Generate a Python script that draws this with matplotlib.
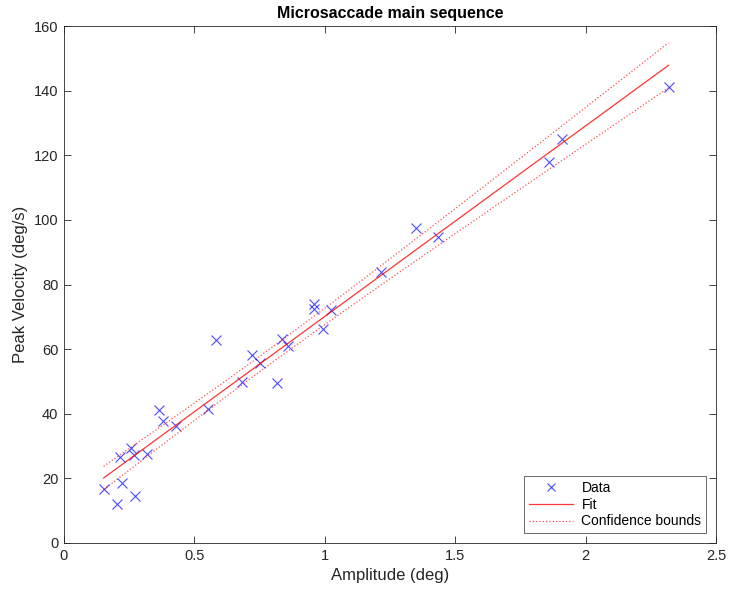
import numpy as np
import matplotlib
matplotlib.use("Agg")
import matplotlib.pyplot as plt

# amplitude (deg) and peak velocity (deg/s)
amplitude = [0.152, 0.203, 0.221, 0.271, 0.213, 0.257, 0.268, 0.318, 0.364, 0.381,
             0.429, 0.554, 0.683, 0.751, 0.817, 0.584, 0.719, 0.835, 0.858, 0.960,
             0.960, 1.022, 0.994, 1.217, 1.349, 1.434, 1.859, 1.911, 2.318]
peak_velocity = [16.8, 12.0, 18.6, 14.6, 26.7, 29.4, 27.2, 27.5, 41.1, 37.7,
                 36.2, 41.5, 49.8, 55.6, 49.4, 62.8, 58.2, 63.1, 61.1, 74.1,
                 72.3, 72.2, 66.2, 84.0, 97.4, 94.6, 118.0, 124.9, 141.0]

x_ticks = [0, 0.5, 1, 1.5, 2, 2.5]
x_tick_labels = ['0', '0.5', '1', '1.5', '2', '2.5']
y_ticks = [0, 20, 40, 60, 80, 100, 120, 140, 160]

plt.rcParams['font.family'] = ['Liberation Sans', 'DejaVu Sans']

x = np.array(amplitude)
y = np.array(peak_velocity)
n = len(x)

# linear fit and 95% functional confidence bounds
slope, intercept = np.polyfit(x, y, 1)
xf = np.linspace(x.min(), x.max(), 200)
yf = slope * xf + intercept
resid = y - (slope * x + intercept)
s = np.sqrt(np.sum(resid ** 2) / (n - 2))
sxx = np.sum((x - x.mean()) ** 2)
t = 2.052  # t(0.975, 27)
half = t * s * np.sqrt(1 / n + (xf - x.mean()) ** 2 / sxx)

fig = plt.figure(figsize=(7.30, 5.91), dpi=100)
ax = fig.add_axes([64 / 730, 48 / 591, 652 / 730, 517 / 591])

ax.plot(x, y, 'x', color='blue', markersize=7, markeredgewidth=0.8, alpha=0.7, label='Data')
ax.plot(xf, yf, '-', color='red', linewidth=0.9, alpha=0.8, label='Fit')
ax.plot(xf, yf + half, ':', color='red', linewidth=0.9, alpha=0.7, label='Confidence bounds')
ax.plot(xf, yf - half, ':', color='red', linewidth=0.9, alpha=0.7)

ax.set_xlim(0, 2.5)
ax.set_ylim(0, 160)
ax.set_xticks(x_ticks)
ax.set_xticklabels(x_tick_labels)
ax.set_yticks(y_ticks)

frame = '#262626'
for sp in ax.spines.values():
    sp.set_color(frame)
    sp.set_linewidth(0.6)
ax.tick_params(direction='in', top=True, right=True, length=5, width=0.6,
               colors=frame, labelsize=10.5, labelcolor='#262626', pad=4)

ax.set_title('Microsaccade main sequence', fontsize=11.5, fontweight='bold', pad=6)
ax.set_xlabel('Amplitude (deg)', fontsize=12, color='#262626')
ax.set_ylabel('Peak Velocity (deg/s)', fontsize=12, color='#262626')

leg = ax.legend(loc='lower right', fontsize=10, frameon=True, fancybox=False,
                borderaxespad=0.7, handlelength=3.2, labelspacing=0.2,
                borderpad=0.35, handletextpad=0.6, markerscale=0.75)
leg.get_frame().set_edgecolor(frame)
leg.get_frame().set_linewidth(0.6)

fig.savefig('out.png', dpi=100)
